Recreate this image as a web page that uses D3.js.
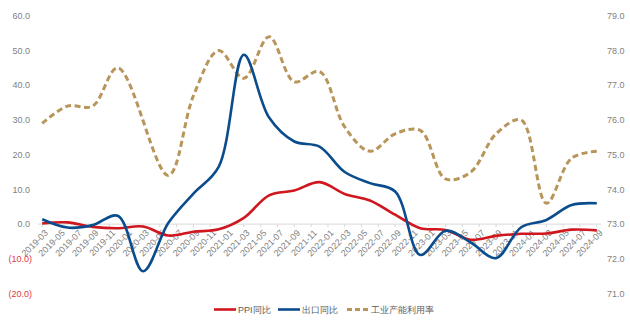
<!DOCTYPE html>
<html><head><meta charset="utf-8">
<script src="https://cdnjs.cloudflare.com/ajax/libs/d3/7.8.5/d3.min.js"></script>
<style>
html,body{margin:0;padding:0;background:#fff;}
svg{display:block;font-family:"Liberation Sans",Arial,sans-serif;}
</style></head>
<body>
<svg id="chart" width="630" height="323"></svg>
<script>
// quarterly observation dates (quarter-end months)
const quarters = ["2019-03","2019-06","2019-09","2019-12","2020-03","2020-06","2020-09","2020-12",
  "2021-03","2021-06","2021-09","2021-12","2022-03","2022-06","2022-09","2022-12",
  "2023-03","2023-06","2023-09","2023-12","2024-03","2024-06","2024-09"];
// PPI YoY (%), quarterly average
const ppi = [0.2,0.5,-0.8,-1.2,-0.7,-3.3,-2.2,-1.5,1.8,8.3,9.7,12.1,8.7,6.8,2.7,-1.2,
  -1.7,-4.5,-3.4,-2.8,-2.7,-1.6,-1.8];
// Export YoY (%)
const exportYoY = [1.4,-1.0,-0.3,2.4,-13.6,0.3,8.8,16.5,48.8,30.7,23.8,22.3,15.0,11.8,9.4,-8.9,
  -1.9,-5.3,-9.8,-0.9,1.2,5.5,6.0];
// Industrial capacity utilization (%), right axis; 2020-03 not shown
const capacity = [75.9,76.4,76.4,77.5,null,74.4,76.7,78.0,77.2,78.4,77.1,77.4,75.8,75.1,75.6,75.7,
  74.3,74.5,75.6,76.0,73.6,74.9,75.1];
const leftTicks = [60,50,40,30,20,10,0,-10,-20];
const rightTicks = [79,78,77,76,75,74,73,72,71];
const seriesNames = ["PPI同比","出口同比","工业产能利用率"];

// monthly category axis
const fmt = d3.timeFormat("%Y-%m"), parse = d3.timeParse("%Y-%m");
const months = d3.timeMonth.range(parse("2019-03"), d3.timeMonth.offset(parse("2024-09"),1)).map(fmt);
const tickLabels = months.filter((m,i)=> i%2===0);

const svg = d3.select("#chart");
const x = d3.scalePoint().domain(months).range([38,601]).padding(0.5);
const yL = d3.scaleLinear().domain([-20,60]).range([293.5,15.9]);
const yR = d3.scaleLinear().domain([71,79]).range([293.5,15.9]);

const red="#d0161e", blue="#0b4c8c", gold="#b8955a", gray="#7f7f7f";

// zero axis
svg.append("line").attr("x1",38).attr("x2",601).attr("y1",yL(0)).attr("y2",yL(0))
  .attr("stroke","#d9d9d9").attr("stroke-width",1);
svg.append("g").selectAll("line").data(tickLabels).join("line")
  .attr("x1",d=>x(d)).attr("x2",d=>x(d)).attr("y1",yL(0)).attr("y2",yL(0)+3)
  .attr("stroke","#d9d9d9");

// x labels
svg.append("g").selectAll("text").data(tickLabels).join("text")
  .attr("transform",d=>`translate(${x(d)+2},${yL(0)+5}) rotate(-45)`)
  .attr("text-anchor","end").attr("dy","0.7em")
  .attr("font-size",9).attr("fill",gray).text(d=>d);

// left axis
svg.append("g").selectAll("text").data(leftTicks).join("text")
  .attr("x",d=>d<0?32:30).attr("y",d=>yL(d)).attr("dy","0.35em")
  .attr("text-anchor","end").attr("font-size",9)
  .attr("fill",d=>d<0?"#e0393e":gray)
  .text(d=>d<0?`(${(-d).toFixed(1)})`:d.toFixed(1));
// right axis
svg.append("g").selectAll("text").data(rightTicks).join("text")
  .attr("x",607).attr("y",d=>yR(d)).attr("dy","0.35em")
  .attr("text-anchor","start").attr("font-size",9).attr("fill",gray)
  .text(d=>d.toFixed(1));

const curve = d3.curveCatmullRom.alpha(0.5);
function draw(vals, y, color, dash){
  const pts = quarters.map((q,i)=>({q,v:vals[i]})).filter(d=>d.v!=null);
  svg.append("path").datum(pts)
    .attr("d", d3.line().x(d=>x(d.q)).y(d=>y(d.v)).curve(curve))
    .attr("fill","none").attr("stroke",color).attr("stroke-width",dash?3:2.6)
    .attr("stroke-dasharray",dash?"6,3.5":null);
}
draw(capacity, yR, gold, true);
draw(ppi, yL, red, false);
draw(exportYoY, yL, blue, false);

// legend
const leg = [{n:seriesNames[0],c:red,x:214},{n:seriesNames[1],c:blue,x:278},{n:seriesNames[2],c:gold,x:347,dash:true}];
const lg = svg.append("g");
leg.forEach(l=>{
  lg.append("line").attr("x1",l.x).attr("x2",l.x+22).attr("y1",309.5).attr("y2",309.5)
    .attr("stroke",l.c).attr("stroke-width",l.dash?3:2.6).attr("stroke-dasharray",l.dash?"5,3":null);
  lg.append("text").attr("x",l.x+24).attr("y",309.5).attr("dy","0.35em")
    .attr("font-size",9).attr("fill","#595959").text(l.n);
});
</script>
</body></html>
